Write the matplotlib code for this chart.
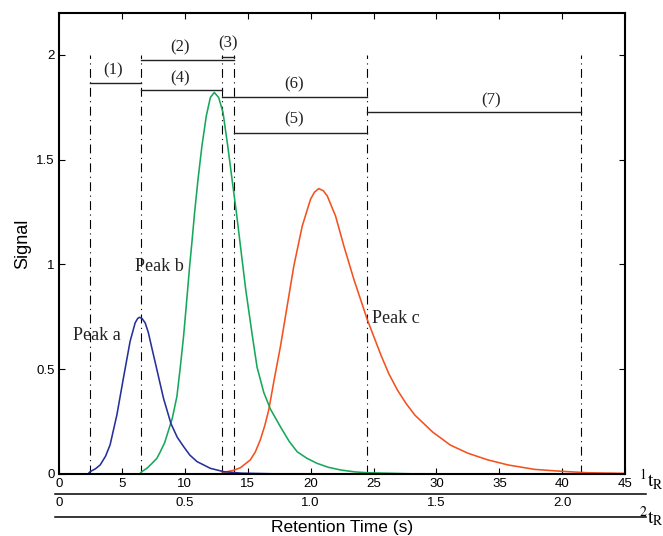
import matplotlib
matplotlib.use('Agg')
import matplotlib.pyplot as plt

# peak a (blue)
peak_a_x = [0, 2.3, 2.47, 2.9, 3.27, 3.7, 4.06, 4.6, 5.12, 5.65, 6.05, 6.25, 6.4, 6.6,
            6.85, 7.1, 7.38, 7.78, 8.04, 8.31, 8.9, 9.4, 9.9, 10.4, 10.97, 12.03, 13.09,
            14.5, 17.0, 45]
peak_a_y = [0, 0.0, 0.011, 0.025, 0.043, 0.085, 0.139, 0.282, 0.458, 0.633, 0.721, 0.742,
            0.748, 0.742, 0.721, 0.675, 0.601, 0.498, 0.43, 0.36, 0.24, 0.175, 0.131, 0.09,
            0.059, 0.027, 0.011, 0.004, 0.001, 0]

# peak b (green)
peak_b_x = [0, 6.4, 6.58, 7.0, 7.38, 7.78, 8.0, 8.4, 9.0, 9.37, 9.64, 9.9, 10.11, 10.38,
            10.57, 10.78, 11.05, 11.36, 11.71, 12.03, 12.34, 12.69, 13.03, 13.41, 13.75,
            14.1, 14.42, 14.84, 15.08, 15.34, 15.74, 16.27, 16.8, 17.6, 18.3, 18.93, 19.7,
            20.5, 21.4, 22.4, 23.5, 24.5, 28.0, 45]
peak_b_y = [0, 0.0, 0.011, 0.028, 0.05, 0.075, 0.1, 0.15, 0.265, 0.37, 0.51, 0.657, 0.80,
            0.99, 1.11, 1.25, 1.407, 1.566, 1.71, 1.797, 1.821, 1.797, 1.726, 1.566, 1.407,
            1.247, 1.088, 0.88, 0.78, 0.67, 0.51, 0.39, 0.31, 0.225, 0.155, 0.106, 0.075,
            0.051, 0.032, 0.019, 0.01, 0.006, 0.001, 0]

# peak c (red)
peak_c_x = [0, 12.8, 13.36, 13.9, 14.42, 15.2, 15.6, 16.0, 16.35, 16.67, 17.1, 17.6, 18.13,
            18.66, 19.33, 19.99, 20.3, 20.65, 21.0, 21.32, 21.98, 22.64, 23.44, 24.5, 25.57,
            26.2, 26.9, 27.6, 28.3, 29.7, 31.1, 32.5, 34.1, 35.7, 37.8, 39.9, 42.0, 45]
peak_c_y = [0, 0.0, 0.011, 0.018, 0.03, 0.067, 0.105, 0.163, 0.23, 0.306, 0.45, 0.609, 0.80,
            0.992, 1.183, 1.311, 1.345, 1.362, 1.352, 1.327, 1.231, 1.088, 0.928, 0.737, 0.57,
            0.48, 0.40, 0.335, 0.28, 0.20, 0.138, 0.099, 0.067, 0.043, 0.022, 0.013, 0.006,
            0.003]

# cut times (dash-dot lines)
cut_times = [2.47, 6.53, 12.98, 13.93, 24.5, 41.5]
cut_top = 2.0

# fraction segments: start, end, level
seg_names = ['(1)', '(2)', '(3)', '(4)', '(5)', '(6)', '(7)']
seg_start = [2.47, 6.53, 12.98, 6.53, 13.93, 12.98, 24.5]
seg_end = [6.53, 13.93, 13.93, 12.98, 24.5, 24.5, 41.5]
seg_level = [1.866, 1.975, 1.992, 1.833, 1.627, 1.80, 1.726]
seg_label_x = [4.3, 9.6, 13.4, 9.6, 18.7, 18.7, 34.3]
seg_label_y = [1.925, 2.035, 2.055, 1.89, 1.69, 1.86, 1.785]

peak_names = ['Peak a', 'Peak b', 'Peak c']
peak_label_x = [1.1, 6.05, 24.85]
peak_label_y = [0.66, 0.99, 0.74]

x_ticks = list(range(0, 50, 5))
y_ticks = [0, 0.5, 1, 1.5, 2]
y_tick_labels = ['0', '0.5', '1', '1.5', '2']
t2_ticks = [0, 0.5, 1.0, 1.5, 2.0]
t2_tick_labels = ['0', '0.5', '1.0', '1.5', '2.0']
t2_factor = 20.0

sans = 'Liberation Sans'
serif = 'Liberation Serif'

fig = plt.figure(figsize=(6.63, 5.36), dpi=100)
ax = fig.add_axes([0.089, 0.1157, 0.854, 0.860])

for t in cut_times:
    ax.plot([t, t], [0, cut_top], color='black', lw=0.8,
            linestyle=(0, (8, 4, 1, 4)))

for i in range(len(seg_names)):
    ax.plot([seg_start[i], seg_end[i]], [seg_level[i], seg_level[i]],
            color='#222222', lw=1.0)
    ax.text(seg_label_x[i], seg_label_y[i], seg_names[i], ha='center', va='center',
            family=serif, fontsize=12, color='#222222')

ax.plot(peak_c_x, peak_c_y, color='#f4511e', lw=1.15)
ax.plot(peak_b_x, peak_b_y, color='#16a85a', lw=1.15)
ax.plot(peak_a_x, peak_a_y, color='#25309a', lw=1.15)

for name, px, py in zip(peak_names, peak_label_x, peak_label_y):
    ax.text(px, py, name, ha='left', va='center', family=serif, fontsize=13,
            color='#222222')

ax.set_xlim(0, 45)
ax.set_ylim(0, 2.2)
ax.set_xticks(x_ticks)
ax.set_xticklabels([str(v) for v in x_ticks], family=sans, fontsize=9.5)
ax.set_yticks(y_ticks)
ax.set_yticklabels(y_tick_labels, family=sans, fontsize=9.5)
ax.tick_params(direction='in', length=4, width=0.8, top=True, right=True, pad=3)
for s in ax.spines.values():
    s.set_linewidth(1.5)
ax.set_ylabel('Signal', family=sans, fontsize=13, labelpad=4)

# second retention time scale
sec = ax.secondary_xaxis(-0.0434, functions=(lambda x: x / t2_factor,
                                             lambda x: x * t2_factor))
sec.set_xticks(t2_ticks)
sec.set_xticklabels(t2_tick_labels, family=sans, fontsize=9.5)
sec.tick_params(length=0, pad=2)
sec.spines['bottom'].set_visible(False)
sec.set_xlabel('Retention Time (s)', family=sans, fontsize=12.5, labelpad=8)

# separator lines below the axes
for yy in [-0.0434, -0.0933]:
    ax.plot([-0.007, 1.037], [yy, yy], color='black', lw=1.1,
            transform=ax.transAxes, clip_on=False)

ax.text(1.025, -0.012, r'$^{1}\mathrm{t}_{\mathrm{R}}$', transform=ax.transAxes,
        ha='left', va='center', fontsize=14, math_fontfamily='stix')
ax.text(1.025, -0.092, r'$^{2}\mathrm{t}_{\mathrm{R}}$', transform=ax.transAxes,
        ha='left', va='center', fontsize=14, math_fontfamily='stix')

fig.savefig('out.png', dpi=100)
